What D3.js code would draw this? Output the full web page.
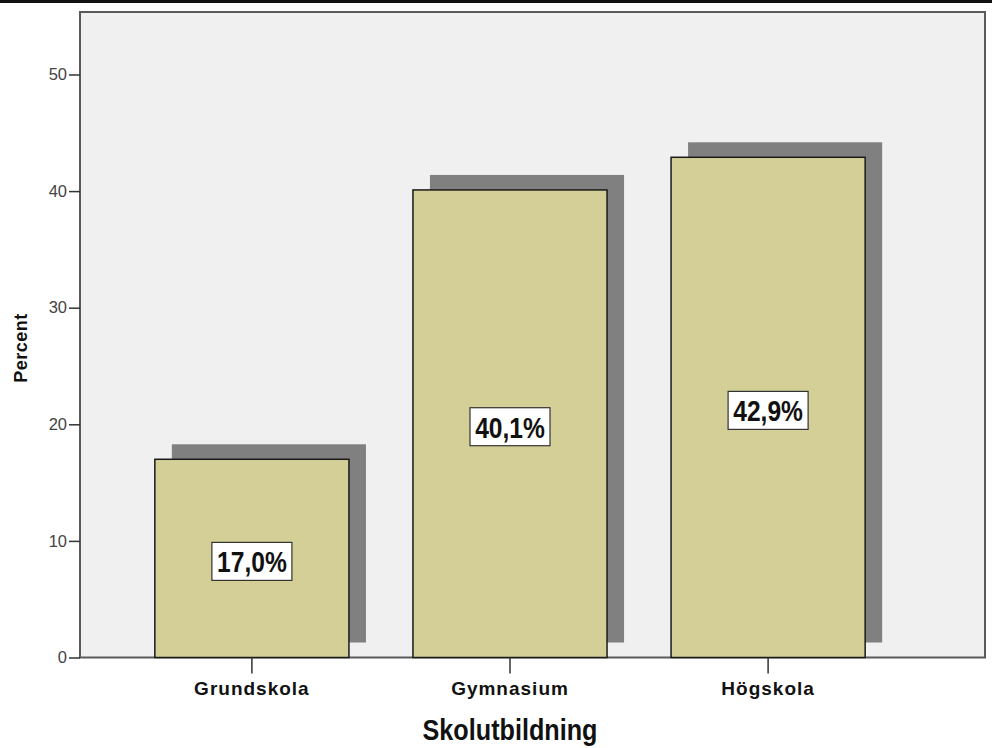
<!DOCTYPE html>
<html>
<head>
<meta charset="utf-8">
<script src="https://cdn.jsdelivr.net/npm/d3@7"></script>
<style>
  body { margin: 0; background: #fff; }
  svg { display: block; }
</style>
</head>
<body>
<div id="chart"></div>
<script>
// data
const categories = ['Grundskola', 'Gymnasium', 'Högskola'];
const percents = [17.0, 40.1, 42.9];
const yTicks = [0, 10, 20, 30, 40, 50];
const valueLabels = ['17,0%', '40,1%', '42,9%'];

const width = 992, height = 748;
const margin = { left: 80, top: 12, right: 7, bottom: 90.5 };
const plotW = width - margin.left - margin.right;
const plotH = height - margin.top - margin.bottom;

const svg = d3.select('#chart').append('svg')
    .attr('width', width)
    .attr('height', height);

// dark strip along the top edge
svg.append('rect')
    .attr('x', 0).attr('y', 0)
    .attr('width', width).attr('height', 3)
    .attr('fill', '#111');

// bands sit a little left of centre (room for the shadows on the right)
const x = d3.scaleBand()
    .domain(categories)
    .range([margin.left, 940])
    .paddingInner(0.248)
    .paddingOuter(0.29);

const y = d3.scaleLinear()
    .domain([0, 55.36])
    .range([margin.top + plotH, margin.top]);

// plot area
svg.append('rect')
    .attr('x', margin.left).attr('y', margin.top)
    .attr('width', plotW).attr('height', plotH)
    .attr('fill', '#f0f0f0')
    .attr('stroke', '#5a5a5a')
    .attr('stroke-width', 2);

const data = categories.map((c, i) => ({ cat: c, v: percents[i], label: valueLabels[i] }));

// drop shadows
const shDx = 17, shDy = -15;
svg.append('g').selectAll('rect')
    .data(data).enter().append('rect')
    .attr('x', d => x(d.cat) + shDx)
    .attr('y', d => y(d.v) + shDy)
    .attr('width', x.bandwidth())
    .attr('height', d => y(0) - y(d.v))
    .attr('fill', '#808080');

// bars
svg.append('g').selectAll('rect')
    .data(data).enter().append('rect')
    .attr('x', d => x(d.cat))
    .attr('y', d => y(d.v))
    .attr('width', x.bandwidth())
    .attr('height', d => y(0) - y(d.v))
    .attr('fill', '#d3cf97')
    .attr('stroke', '#1a1a1a')
    .attr('stroke-width', 1.5);

// value labels in white boxes
const lab = svg.append('g').selectAll('g')
    .data(data).enter().append('g')
    .attr('transform', d => `translate(${x(d.cat) + x.bandwidth() / 2},${(y(d.v) + y(0)) / 2 + 3})`);

lab.append('rect')
    .attr('x', -40).attr('y', -19)
    .attr('width', 80).attr('height', 38)
    .attr('fill', '#fff')
    .attr('stroke', '#333')
    .attr('stroke-width', 1.2);

lab.append('text')
    .attr('transform', 'scale(0.82,1)')
    .attr('text-anchor', 'middle')
    .attr('dy', '0.36em')
    .style('font-family', '"Liberation Sans", Arial, sans-serif')
    .style('font-weight', 'bold')
    .style('font-size', '30px')
    .attr('fill', '#111')
    .text(d => d.label);

// y axis
const yAxis = svg.append('g')
    .attr('transform', `translate(${margin.left},0)`)
    .call(d3.axisLeft(y).tickValues(yTicks).tickSize(11).tickPadding(2));
yAxis.select('.domain').remove();
yAxis.selectAll('line').attr('stroke', '#333').attr('stroke-width', 1.5);
yAxis.selectAll('text')
    .style('font-family', '"Liberation Sans", Arial, sans-serif')
    .style('font-size', '16.5px')
    .attr('fill', '#444');

// x axis
const xAxis = svg.append('g')
    .attr('transform', `translate(0,${y(0)})`)
    .call(d3.axisBottom(x).tickSize(16).tickPadding(8));
xAxis.select('.domain').remove();
xAxis.selectAll('line').attr('stroke', '#333').attr('stroke-width', 1.5);
xAxis.selectAll('text')
    .style('font-family', '"Liberation Sans", Arial, sans-serif')
    .style('font-weight', 'bold')
    .style('font-size', '19px')
    .style('letter-spacing', '1px')
    .attr('fill', '#111');

// axis titles
svg.append('text')
    .attr('transform', `translate(510,740) scale(0.84,1)`)
    .attr('text-anchor', 'middle')
    .style('font-family', '"Liberation Sans", Arial, sans-serif')
    .style('font-weight', 'bold')
    .style('font-size', '30px')
    .attr('fill', '#111')
    .text('Skolutbildning');

svg.append('text')
    .attr('transform', `translate(27,348) rotate(-90)`)
    .attr('text-anchor', 'middle')
    .style('font-family', '"Liberation Sans", Arial, sans-serif')
    .style('font-weight', 'bold')
    .style('font-size', '18px')
    .style('letter-spacing', '0.5px')
    .attr('fill', '#111')
    .text('Percent');
</script>
</body>
</html>
